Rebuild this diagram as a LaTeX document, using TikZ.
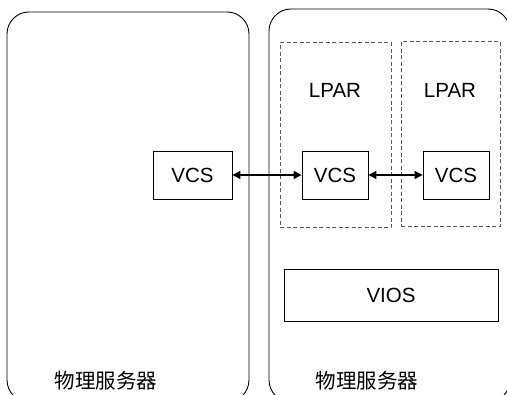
\documentclass[tikz,border=0pt]{standalone}
\usepackage{fontspec}
\setmainfont{Liberation Sans}
\newfontfamily\cjkfont{Noto Sans CJK SC}
\usepackage{tikz}
\usetikzlibrary{arrows.meta, positioning}

\begin{document}
\begin{tikzpicture}[x=1pt, y=-1pt, >={Triangle[length=8pt, width=8pt]}]
		\tikzstyle{server} = [draw=black, line width=0.9pt, rectangle, rounded corners=22pt, inner sep=0pt]
		\tikzstyle{lpar}   = [draw=black!65, line width=1pt, dash pattern=on 4pt off 2.5pt, rectangle, inner sep=0pt]
		\tikzstyle{box}    = [draw=black, line width=0.9pt, rectangle, inner sep=0pt, font=\fontsize{20.5}{24}\selectfont]
		\tikzstyle{lbl}    = [draw=none, inner sep=0pt, font=\fontsize{20.5}{24}\selectfont]
		\tikzstyle{arrow}  = [line width=1.3pt, <->]

		\useasboundingbox (0, 0) rectangle (507, 395);
		\clip (0, 0) rectangle (507, 395);

		% servers
		\node[server, minimum width=242pt, minimum height=390pt] at (128, 207)   (srvA) {};
		\node[server, minimum width=241pt, minimum height=393pt] at (389.5, 205.5) (srvB) {};
		\node[lbl] at (106, 381) (srvAname) {\cjkfont 物理服务器};
		\node[lbl] at (367, 381) (srvBname) {\cjkfont 物理服务器};

		% partitions
		\node[lpar, minimum width=111pt, minimum height=185pt] at (335.5, 135.5) (lparA) {};
		\node[lpar, minimum width=99pt,  minimum height=185pt] at (450.5, 134.5) (lparB) {};
		\node[lbl] at (335, 90) (lparAname) {LPAR};
		\node[lbl] at (450, 90) (lparBname) {LPAR};

		\node[box, minimum width=79pt, minimum height=48pt]  at (192.5, 175) (vcsA) {VCS};
		\node[box, minimum width=66pt, minimum height=48pt]  at (335, 175)   (vcsB) {VCS};
		\node[box, minimum width=66pt, minimum height=48pt]  at (456, 175)   (vcsC) {VCS};
		\node[box, minimum width=214pt, minimum height=52pt] at (391, 295)   (vios) {VIOS};

		\draw[arrow] (vcsA) -- (vcsB);
		\draw[arrow] (vcsB) -- (vcsC);
	\end{tikzpicture}
\end{document}
